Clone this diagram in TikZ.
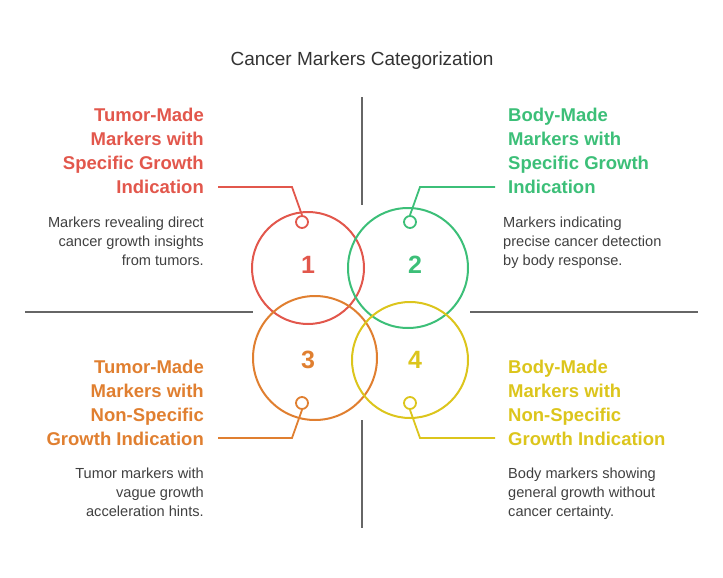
\documentclass[tikz,border=0pt]{standalone}
\usepackage{fontspec}
\setmainfont{Liberation Sans}
\begin{document}
\begin{tikzpicture}[x=1pt,y=-1pt,
  ring/.style={line width=2pt},
  dot/.style={circle,line width=1.8pt,fill=white,minimum size=12pt,inner sep=0pt},
  num/.style={font=\bfseries\fontsize{25}{25}\selectfont},
  head/.style={font=\bfseries\fontsize{18.5}{24}\selectfont,inner sep=0pt},
  desc/.style={font=\fontsize{14.6}{19}\selectfont,text=black!75,inner sep=0pt},
  divider/.style={draw=black!60,line width=1.5pt},
  lead/.style={line width=1.8pt}]
\definecolor{cr}{HTML}{E2574C}
\definecolor{cg}{HTML}{3CBF78}
\definecolor{co}{HTML}{E07F30}
\definecolor{cy}{HTML}{DCC51C}
\useasboundingbox (0,0) rectangle (723,578);
\node (title) at (362,61) {\fontsize{19}{22}\selectfont\color{black!80}Cancer Markers Categorization};
\coordinate (v1a) at (362,97); \coordinate (v1b) at (362,205);
\coordinate (v2a) at (362,420); \coordinate (v2b) at (362,528);
\coordinate (h1a) at (25,312); \coordinate (h1b) at (253,312);
\coordinate (h2a) at (470,312); \coordinate (h2b) at (698,312);
\draw[divider] (v1a)--(v1b); \draw[divider] (v2a)--(v2b);
\draw[divider] (h1a)--(h1b); \draw[divider] (h2a)--(h2b);
\draw[ring,cr] (308,268) circle (56);
\draw[ring,cg] (408,268) circle (60);
\draw[ring,co] (315,358) circle (62);
\draw[ring,cy] (410,360) circle (58);
\node[num,cr] (n1) at (308,265) {1};
\node[num,cg] (n2) at (415,265) {2};
\node[num,co] (n3) at (308,360) {3};
\node[num,cy] (n4) at (415,360) {4};
\node[dot,draw=cr] (d1) at (302,222) {};
\node[dot,draw=cg] (d2) at (410,222) {};
\node[dot,draw=co] (d3) at (302,403) {};
\node[dot,draw=cy] (d4) at (410,403) {};
\coordinate (e1) at (218,187); \coordinate (e2) at (495,187);
\coordinate (e3) at (218,438); \coordinate (e4) at (495,438);
\draw[lead,cr] (d1.north) -- (292,187) -- (e1);
\draw[lead,cg] (d2.north) -- (420,187) -- (e2);
\draw[lead,co] (d3.south) -- (292,438) -- (e3);
\draw[lead,cy] (d4.south) -- (420,438) -- (e4);
\node[head,cr,align=right,anchor=north east] (t1) at (204,108) {Tumor-Made\\Markers with\\Specific Growth\\Indication};
\node[head,cg,align=left,anchor=north west] (t2) at (508,108) {Body-Made\\Markers with\\Specific Growth\\Indication};
\node[head,co,align=right,anchor=north east] (t3) at (204,360) {Tumor-Made\\Markers with\\Non-Specific\\Growth Indication};
\node[head,cy,align=left,anchor=north west] (t4) at (508,360) {Body-Made\\Markers with\\Non-Specific\\Growth Indication};
\node[desc,align=right,anchor=north east] (s1) at (204,217) {Markers revealing direct\\cancer growth insights\\from tumors.};
\node[desc,align=left,anchor=north west] (s2) at (503,217) {Markers indicating\\precise cancer detection\\by body response.};
\node[desc,align=right,anchor=north east] (s3) at (204,468) {Tumor markers with\\vague growth\\acceleration hints.};
\node[desc,align=left,anchor=north west] (s4) at (508,468) {Body markers showing\\general growth without\\cancer certainty.};
\end{tikzpicture}
\end{document}
